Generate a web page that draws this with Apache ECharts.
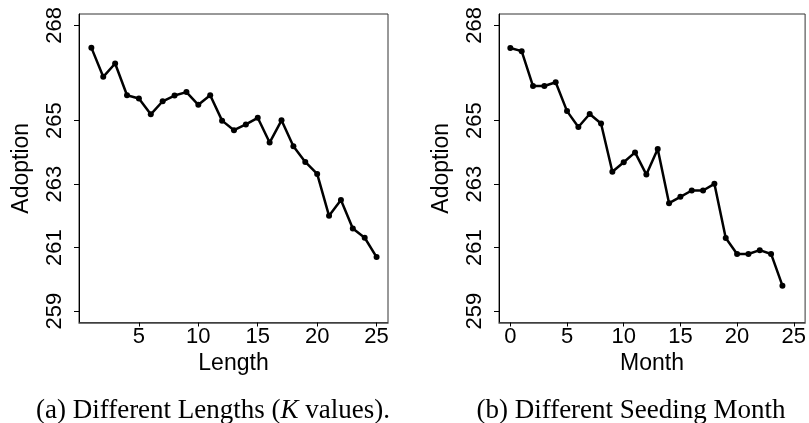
<!DOCTYPE html>
<html>
<head>
<meta charset="utf-8">
<script src="https://cdn.jsdelivr.net/npm/echarts@6/dist/echarts.min.js"></script>
<style>
  html, body { margin: 0; padding: 0; background: #fff; }
  #chart { width: 809px; height: 423px; }
</style>
</head>
<body>
<div id="chart"></div>
<script>
// Panel (a): adoption by sequence length K
const lengthValues = [1, 2, 3, 4, 5, 6, 7, 8, 9, 10, 11, 12, 13, 14, 15, 16, 17, 18, 19, 20, 21, 22, 23, 24, 25];
const lengthAdoption = [267.30, 266.38, 266.80, 265.80, 265.70, 265.20, 265.61, 265.79, 265.90, 265.50,
                        265.80, 265.00, 264.70, 264.88, 265.09, 264.31, 265.01, 264.19, 263.70, 263.32,
                        262.00, 262.50, 261.60, 261.31, 260.70];

// Panel (b): adoption by seeding month
const monthValues = [0, 1, 2, 3, 4, 5, 6, 7, 8, 9, 10, 11, 12, 13, 14, 15, 16, 17, 18, 19, 20, 21, 22, 23, 24];
const monthAdoption = [267.29, 267.19, 266.09, 266.09, 266.21, 265.30, 264.80, 265.21, 264.91, 263.39,
                       263.69, 264.00, 263.30, 264.11, 262.40, 262.60, 262.80, 262.80, 263.01, 261.30,
                       260.80, 260.80, 260.92, 260.80, 259.80];

// Tick labels
const adoptionTicks = [259, 261, 263, 265, 268];
const lengthTicks = [5, 10, 15, 20, 25];
const monthTicks = [0, 5, 10, 15, 20, 25];

const captions = ['(a) Different Lengths ({i|K} values).', '(b) Different Seeding Month'];

const SANS = 'Liberation Sans';
const SERIF = 'Liberation Serif';

function pairs(xs, ys) { return xs.map((x, i) => [x, ys[i]]); }

function xAxisFor(idx, name, min, max, ticks) {
  return {
    gridIndex: idx, type: 'value', min: min, max: max,
    name: name, nameLocation: 'middle', nameGap: 24,
    nameTextStyle: { fontFamily: SANS, fontSize: 23, color: '#000' },
    axisLine: { show: true, onZero: false, lineStyle: { color: '#444', width: 1.5 } },
    axisTick: { show: true, customValues: ticks, length: 4, lineStyle: { color: '#000' } },
    axisLabel: { customValues: ticks, fontFamily: SANS, fontSize: 22, color: '#000', margin: 3 },
    splitLine: { show: false }
  };
}

function yAxisFor(idx) {
  return {
    gridIndex: idx, type: 'value', min: 258.64, max: 268.36,
    name: 'Adoption', nameLocation: 'middle', nameGap: 46,
    nameTextStyle: { fontFamily: SANS, fontSize: 23, color: '#000' },
    axisLine: { show: true, onZero: false, lineStyle: { color: '#000', width: 1 } },
    axisTick: { show: true, customValues: adoptionTicks, length: 5, lineStyle: { color: '#000' } },
    axisLabel: { customValues: adoptionTicks, rotate: 90, fontFamily: SANS, fontSize: 22, color: '#000', margin: 13 },
    splitLine: { show: false }
  };
}

function lineSeries(idx, data) {
  return {
    type: 'line', xAxisIndex: idx, yAxisIndex: idx, data: data,
    symbol: 'circle', symbolSize: 6, showSymbol: true,
    lineStyle: { color: '#000', width: 2.5 },
    itemStyle: { color: '#000' },
    silent: true, animation: false
  };
}

const chart = echarts.init(document.getElementById('chart'), null, { renderer: 'canvas' });
chart.setOption({
  animation: false,
  backgroundColor: '#fff',
  grid: [
    { left: 79, top: 14, width: 309, height: 308.5, show: true, borderColor: '#333', borderWidth: 1, backgroundColor: 'transparent' },
    { left: 499, top: 14, width: 308.5, height: 308.5, show: true, borderColor: '#333', borderWidth: 1, backgroundColor: 'transparent' }
  ],
  title: [
    { text: captions[0], left: 208, top: 392, textAlign: 'center',
      textStyle: { fontFamily: SERIF, fontSize: 27, fontWeight: 'normal', color: '#000',
        rich: { i: { fontFamily: SERIF, fontSize: 27, fontStyle: 'italic', color: '#000' } } } },
    { text: captions[1], left: 626, top: 392, textAlign: 'center',
      textStyle: { fontFamily: SERIF, fontSize: 27, fontWeight: 'normal', color: '#000' } }
  ],
  xAxis: [
    xAxisFor(0, 'Length', -0.04, 25.96, lengthTicks),
    xAxisFor(1, 'Month', -1, 26, monthTicks)
  ],
  yAxis: [yAxisFor(0), yAxisFor(1)],
  series: [
    lineSeries(0, pairs(lengthValues, lengthAdoption)),
    lineSeries(1, pairs(monthValues, monthAdoption))
  ]
});
</script>
</body>
</html>
